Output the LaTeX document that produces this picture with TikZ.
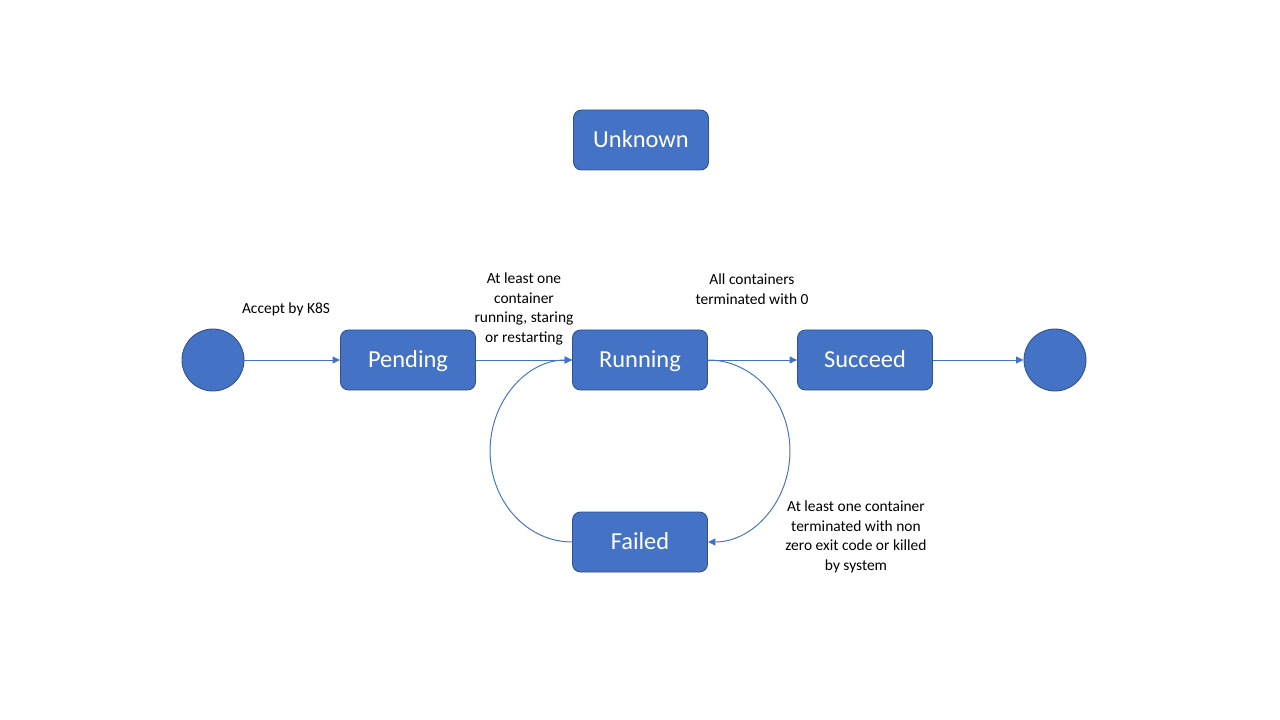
\documentclass[tikz,border=0pt]{standalone}
\usepackage{fontspec}
\setmainfont{Carlito}
\usepackage{xcolor}
\definecolor{stateblue}{RGB}{68,114,196}
\definecolor{stateborder}{RGB}{47,82,143}
\usetikzlibrary{arrows.meta,positioning}

\begin{document}
\begin{tikzpicture}[x=0.2mm, y=-0.2mm,
        state/.style={rectangle, rounded corners=1.6mm, draw=stateborder, fill=stateblue, text=white, minimum width=27mm, minimum height=12mm, text height=9pt, text depth=0pt, line width=0.5pt, font=\fontsize{13.9}{16}\selectfont},
        terminal/.style={circle, draw=stateborder, fill=stateblue, minimum size=12.4mm, inner sep=0pt, line width=0.5pt},
        trans/.style={draw=stateblue, line width=0.55pt, -{Triangle[length=1.5mm, width=1.4mm]}},
        note/.style={align=center, font=\fontsize{8.8}{11.1}\selectfont}
    ]
        \useasboundingbox (0,0) rectangle (1280,720);

        % Unknown state
        \node[state] (unknown) at (641,140) {Unknown};

        % Main flow
        \node[terminal] (start) at (213,360) {};
        \node[state] (pending) at (408,360) {Pending};
        \node[state] (running) at (640,360) {Running};
        \node[state] (succeed) at (865,360) {Succeed};
        \node[terminal] (stop) at (1055,360) {};

        % Failure state
        \node[state] (failed) at (640,542) {Failed};

        % Transitions
        \draw[trans] (start) -- (pending);
        \draw[trans] (pending) -- (running);
        \draw[trans] (running) -- (succeed);
        \draw[trans] (succeed) -- (stop);
        \draw[trans] (running.east) arc[start angle=-90, end angle=90, x radius=82, y radius=91];
        \draw[trans] (failed.west) arc[start angle=90, end angle=270, x radius=82, y radius=91];

        % Labels
        \node[note] (acceptnote) at (286,309) {Accept by K8S};
        \node[note] (runnote) at (524,309) {At least one\\container\\running, staring\\or restarting};
        \node[note] (donenote) at (752,289) {All containers\\terminated with 0};
        \node[note] (failnote) at (856,537) {At least one container\\terminated with non\\zero exit code or killed\\by system};
    \end{tikzpicture}
\end{document}
